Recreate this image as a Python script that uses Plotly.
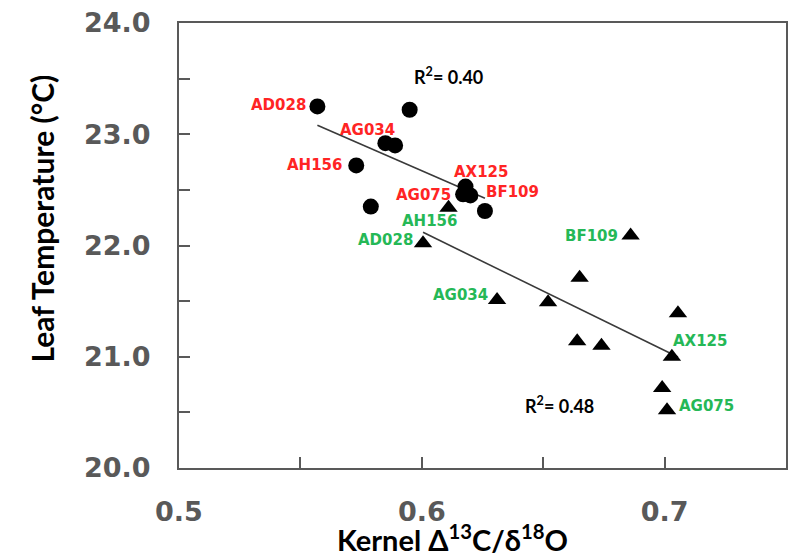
import numpy as np
import plotly.graph_objects as go

# Kernel Δ13C/δ18O vs leaf temperature, two groups of genotypes
circle_x = [0.557, 0.595, 0.585, 0.589, 0.573, 0.618, 0.617, 0.620, 0.626, 0.579]
circle_y = [23.25, 23.22, 22.92, 22.90, 22.72, 22.53, 22.46, 22.45, 22.31, 22.35]
circle_names = ["AD028", "", "AG034", "", "AH156", "AX125", "AG075", "BF109", "", ""]

triangle_x = [0.611, 0.6005, 0.686, 0.665, 0.631, 0.652, 0.7055, 0.664, 0.674, 0.703, 0.699, 0.701]
triangle_y = [22.34, 22.02, 22.09, 21.71, 21.51, 21.49, 21.39, 21.14, 21.10, 21.00, 20.72, 20.52]
triangle_names = ["AH156", "AD028", "BF109", "", "AG034", "", "", "", "", "AX125", "", "AG075"]

r2_labels = ["R<sup>2</sup>= 0.40", "R<sup>2</sup>= 0.48"]

x_tick_vals = [0.5, 0.55, 0.6, 0.65, 0.7, 0.75]
x_tick_text = ["0.5", "", "0.6", "", "0.7", ""]
y_tick_vals = [20.0, 20.5, 21.0, 21.5, 22.0, 22.5, 23.0, 23.5, 24.0]
y_tick_text = ["20.0", "", "21.0", "", "22.0", "", "23.0", "", "24.0"]

RED = "#FF2424"
GREEN = "#25B856"
AXIS_GREY = "#595959"

# label placement relative to its marker: (anchor, dx px, dy px downwards)
circle_label_pos = {
    "AD028": ("right", -9, -1),
    "AG034": ("right", 12, -13),
    "AH156": ("right", -12, 0),
    "AX125": ("left", -14, -15),
    "AG075": ("right", -10, 1),
    "BF109": ("left", 14, -3),
}
triangle_label_pos = {
    "AH156": ("center", -19, 13),
    "AD028": ("right", -8, -3),
    "BF109": ("right", -11, 1),
    "AG034": ("right", -7, -5),
    "AX125": ("left", -1, -16),
    "AG075": ("left", 10, -4),
}

fig = go.Figure()


def trend(xs, ys):
    slope, icept = np.polyfit(xs, ys, 1)
    xe = np.array([min(xs), max(xs)])
    return xe, slope * xe + icept


for xs, ys in [(circle_x, circle_y), (triangle_x, triangle_y)]:
    xe, ye = trend(xs, ys)
    fig.add_trace(go.Scatter(x=xe, y=ye, mode="lines",
                             line=dict(color="#3a3a3a", width=1.6),
                             hoverinfo="skip", showlegend=False))

fig.add_trace(go.Scatter(x=circle_x, y=circle_y, mode="markers",
                         marker=dict(symbol="circle", size=16, color="black"),
                         showlegend=False))
fig.add_trace(go.Scatter(x=triangle_x, y=triangle_y, mode="markers",
                         marker=dict(symbol="triangle-up", size=16, color="black"),
                         showlegend=False))

label_font = dict(family="DejaVu Sans", size=15, weight="bold")
annotations = []
for xs, ys, names, pos, col in [
    (circle_x, circle_y, circle_names, circle_label_pos, RED),
    (triangle_x, triangle_y, triangle_names, triangle_label_pos, GREEN),
]:
    for xv, yv, nm in zip(xs, ys, names):
        if not nm:
            continue
        anchor, dx, dy = pos[nm]
        annotations.append(dict(
            x=xv, y=yv, xref="x", yref="y", text=nm, showarrow=False,
            xanchor=anchor, yanchor="middle", xshift=dx, yshift=-dy,
            font=dict(color=col, **label_font)))

r2_font = dict(family="Lato", size=18, color="black", weight="bold")
annotations.append(dict(x=0.6108, y=23.52, xref="x", yref="y", text=r2_labels[0],
                        showarrow=False, font=r2_font))
annotations.append(dict(x=0.6567, y=20.57, xref="x", yref="y", text=r2_labels[1],
                        showarrow=False, font=r2_font))

title_font = dict(family="Lato", size=29, color="black", weight="bold")
annotations.append(dict(x=0.45, y=-0.158, xref="paper", yref="paper",
                        text="Kernel Δ<sup>13</sup>C/δ<sup>18</sup>O",
                        showarrow=False, xanchor="center", yanchor="middle",
                        font=title_font))
annotations.append(dict(x=-0.226, y=0.56, xref="paper", yref="paper",
                        text="Leaf Temperature (°C)", textangle=-90,
                        showarrow=False, xanchor="center", yanchor="middle",
                        font=dict(family="Lato", size=30, color="black", weight="bold")))

tick_font = dict(family="DejaVu Sans", size=27, color=AXIS_GREY, weight="bold")
axis_common = dict(showgrid=False, zeroline=False, showline=True, mirror=True,
                   linecolor=AXIS_GREY, linewidth=2, ticks="inside", ticklen=11,
                   tickwidth=2, tickcolor=AXIS_GREY, tickfont=tick_font)

fig.update_xaxes(range=[0.5, 0.75], tickmode="array", tickvals=x_tick_vals,
                 ticktext=x_tick_text, ticklabelstandoff=19, **axis_common)
fig.update_yaxes(range=[20.0, 24.0], tickmode="array", tickvals=y_tick_vals,
                 ticktext=y_tick_text, ticklabelstandoff=21, **axis_common)

fig.update_layout(width=795, height=559,
                  margin=dict(l=179, r=7, t=21, b=91),
                  paper_bgcolor="white", plot_bgcolor="white",
                  annotations=annotations, showlegend=False)

fig.write_html("out.html")
